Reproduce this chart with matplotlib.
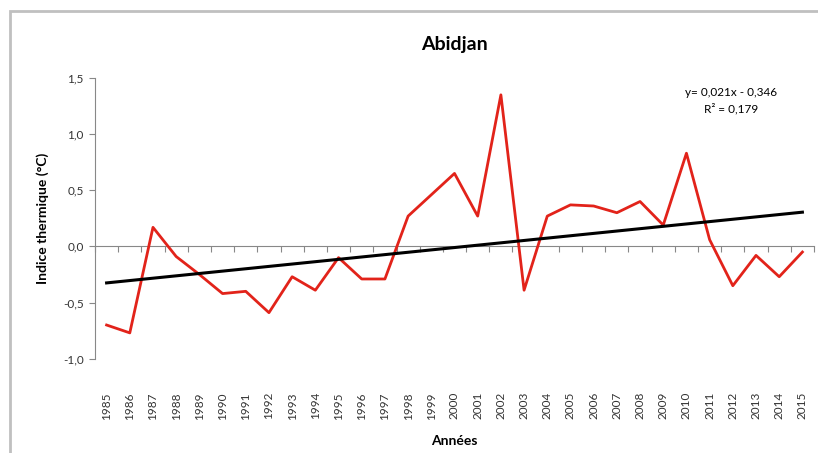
from matplotlib import pyplot as plt
from matplotlib.patches import Rectangle
import numpy as np

plt.rcParams['font.family'] = ['Lato', 'DejaVu Sans']

years = list(range(1985, 2016))
indice = [-0.70, -0.77, 0.17, -0.09, -0.25, -0.42, -0.40, -0.59, -0.27, -0.39,
          -0.10, -0.29, -0.29, 0.27, 0.46, 0.65, 0.27, 1.35, -0.39, 0.27,
          0.37, 0.36, 0.30, 0.40, 0.19, 0.83, 0.06, -0.35, -0.08, -0.27, -0.05]
slope = 0.021
intercept = -0.346
r2 = 0.179
yticks = [-1.0, -0.5, 0.0, 0.5, 1.0, 1.5]

fig = plt.figure(figsize=[8.18, 4.53], dpi=100)
# outer chart frame (partly cut off like in the screenshot)
fig.patches.append(Rectangle((10 / 818, -0.1), 1.2, 1 - 11 / 453 + 0.1,
                             transform=fig.transFigure, fill=False,
                             edgecolor='#c0c0c0', linewidth=2))

ax = fig.add_axes([95 / 818, 94.3 / 453, 719 / 818, 280.7 / 453])
x = np.arange(len(years))
trend = slope * (x + 1) + intercept

ax.plot(x, indice, '-', color='#e2231a', linewidth=2.0, zorder=3)
ax.plot(x, trend, '-', color='black', linewidth=2.2, zorder=4)

ax.set_xlim(-0.5, len(years) - 0.5)
ax.set_ylim(-1.0, 1.5)
ax.set_yticks(yticks)
ax.set_yticklabels([f"{v:.1f}".replace('.', ',') for v in yticks], fontsize=8.5,
                   color='#333333')
ax.tick_params(axis='y', direction='out', length=4, color='#888888', pad=4)

ax.set_xticks(x)
ax.set_xticklabels([str(y) for y in years], rotation=90, fontsize=8.5,
                   color='#333333')
ax.tick_params(axis='x', length=0, pad=24)

for s in ['top', 'right', 'bottom']:
  ax.spines[s].set_visible(False)
ax.spines['left'].set_color('#888888')

# horizontal axis crossing at 0
sec = ax.secondary_xaxis(0.4)
sec.set_xticks(np.arange(len(years) + 1) - 0.5)
sec.set_xticklabels([])
sec.tick_params(direction='out', length=4, color='#888888')
sec.spines['bottom'].set_color('#888888')

ax.set_title("Abidjan", fontsize=14, fontweight='bold', pad=20)
ax.set_ylabel("Indice thermique (°C)", fontsize=10, fontweight='bold', labelpad=10)
ax.set_xlabel("Années", fontsize=10, fontweight='bold', labelpad=11)

ax.text(0.885, 0.95, f"y= {slope:.3f}x - {abs(intercept):.3f}".replace('.', ','),
        transform=ax.transAxes, ha='center', va='center', fontsize=8.5)
ax.text(0.885, 0.89, f"R² = {r2:.3f}".replace('.', ','),
        transform=ax.transAxes, ha='center', va='center', fontsize=8.5)

plt.savefig("out.png", dpi=100)
